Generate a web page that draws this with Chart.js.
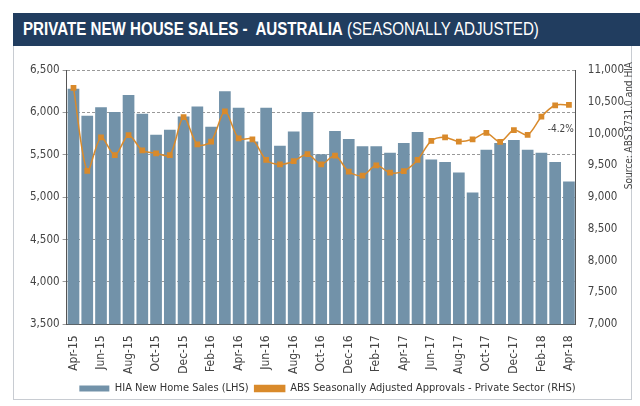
<!DOCTYPE html>
<html><head><meta charset="utf-8">
<script src="https://cdn.jsdelivr.net/npm/chart.js@4"></script>
<style>
body{margin:0;background:#fff;width:640px;height:406px;overflow:hidden;position:relative;font-family:"Liberation Sans",Arial,sans-serif}
#banner{position:absolute;left:13px;top:13px;width:627px;height:33px;background:#213d5f;color:#fff;font-size:18px;line-height:33px;padding-left:10px;box-sizing:border-box;white-space:nowrap;overflow:hidden}
#banner span{display:inline-block;transform:scaleX(0.84);transform-origin:left center}
#box{position:absolute;left:13px;top:46px;width:619px;height:354px;border:1px solid #c8ccd2;border-top:none;box-sizing:border-box}
#wrap{position:absolute;left:0;top:0;width:640px;height:406px}
</style></head><body>
<div id="box"></div>
<div id="wrap"><canvas id="c" width="640" height="406"></canvas></div>
<div id="banner"><span><b>PRIVATE NEW HOUSE SALES -&nbsp; AUSTRALIA</b> (SEASONALLY ADJUSTED)</span></div>
<script>
const months=["Apr-15","May-15","Jun-15","Jul-15","Aug-15","Sep-15","Oct-15","Nov-15","Dec-15","Jan-16","Feb-16","Mar-16","Apr-16","May-16","Jun-16","Jul-16","Aug-16","Sep-16","Oct-16","Nov-16","Dec-16","Jan-17","Feb-17","Mar-17","Apr-17","May-17","Jun-17","Jul-17","Aug-17","Sep-17","Oct-17","Nov-17","Dec-17","Jan-18","Feb-18","Mar-18","Apr-18"];
const hiaSales=[6280,5960,6060,6005,6205,5985,5735,5795,5950,6070,5830,6250,6055,5655,6055,5605,5775,6005,5505,5780,5685,5600,5600,5525,5640,5770,5445,5415,5290,5055,5560,5640,5675,5560,5525,5415,5185];
const absApprovals=[10720,9415,9940,9660,9975,9735,9690,9660,10260,9830,9875,10350,9925,9910,9585,9515,9565,9675,9515,9655,9400,9340,9500,9385,9410,9585,9885,9940,9875,9910,10010,9870,10055,9980,10265,10445,10450];
const leftTicks=[3500,4000,4500,5000,5500,6000,6500];
const rightTicks=[7000,7500,8000,8500,9000,9500,10000,10500,11000];
const changeLabel="-4.2%";
const sourceText="Source: ABS 8731.0 and HIA";
const FONT='"DejaVu Sans Condensed","Liberation Sans",Arial,sans-serif';
const fmt=v=>v.toLocaleString('en-US');
const extras={id:'extras',afterDraw(ch){
  const c=ch.ctx,y1=ch.scales.y1,x=ch.scales.x;
  c.save();c.fillStyle='#444';c.font='10px '+FONT;
  c.textAlign='right';c.textBaseline='middle';
  c.fillText(changeLabel,x.right-2,y1.getPixelForValue(10000)-4);
  c.translate(634,ch.chartArea.top-8);c.rotate(-Math.PI/2);
  c.textAlign='right';c.textBaseline='bottom';c.fillText(sourceText,0,0);
  c.restore();
}};
new Chart(document.getElementById('c'),{
  data:{labels:months,datasets:[
    {type:'line',label:'ABS Seasonally Adjusted Approvals - Private Sector (RHS)',data:absApprovals,yAxisID:'y1',
     borderColor:'#d98a2b',backgroundColor:'#d98a2b',borderWidth:1.5,pointStyle:'rect',pointRadius:3,tension:0.3,order:0},
    {type:'bar',label:'HIA New Home Sales (LHS)',data:hiaSales,yAxisID:'y',backgroundColor:'#7292a9',
     categoryPercentage:1,barPercentage:0.85,order:1}
  ]},
  options:{responsive:false,animation:false,
    layout:{padding:{top:70,left:27,right:12,bottom:2}},
    plugins:{legend:{position:'bottom',reverse:true,labels:{font:{family:FONT,size:11},color:'#333',boxWidth:30,boxHeight:6,padding:6}},tooltip:{enabled:false}},
    scales:{
      x:{grid:{display:false,drawTicks:true},border:{color:'#555'},
         ticks:{autoSkip:false,maxRotation:90,minRotation:90,color:'#444',font:{family:FONT,size:12},
           callback:(v,i)=>i%2===0?months[i]:''}},
      y:{position:'left',min:3500,max:6500,afterBuildTicks:s=>{s.ticks=leftTicks.map(v=>({value:v}))},
         grid:{color:'#999',drawTicks:true,tickLength:4},border:{color:'#555',dash:[3,2]},
         ticks:{color:'#444',font:{family:FONT,size:11.5},callback:v=>fmt(v)}},
      y1:{position:'right',min:7000,max:11000,afterBuildTicks:s=>{s.ticks=rightTicks.map(v=>({value:v}))},
         grid:{display:false},border:{color:'#555'},
         ticks:{color:'#444',font:{family:FONT,size:11.5},callback:v=>fmt(v),padding:4}}
    }
  },
  plugins:[extras]
});
</script></body></html>
